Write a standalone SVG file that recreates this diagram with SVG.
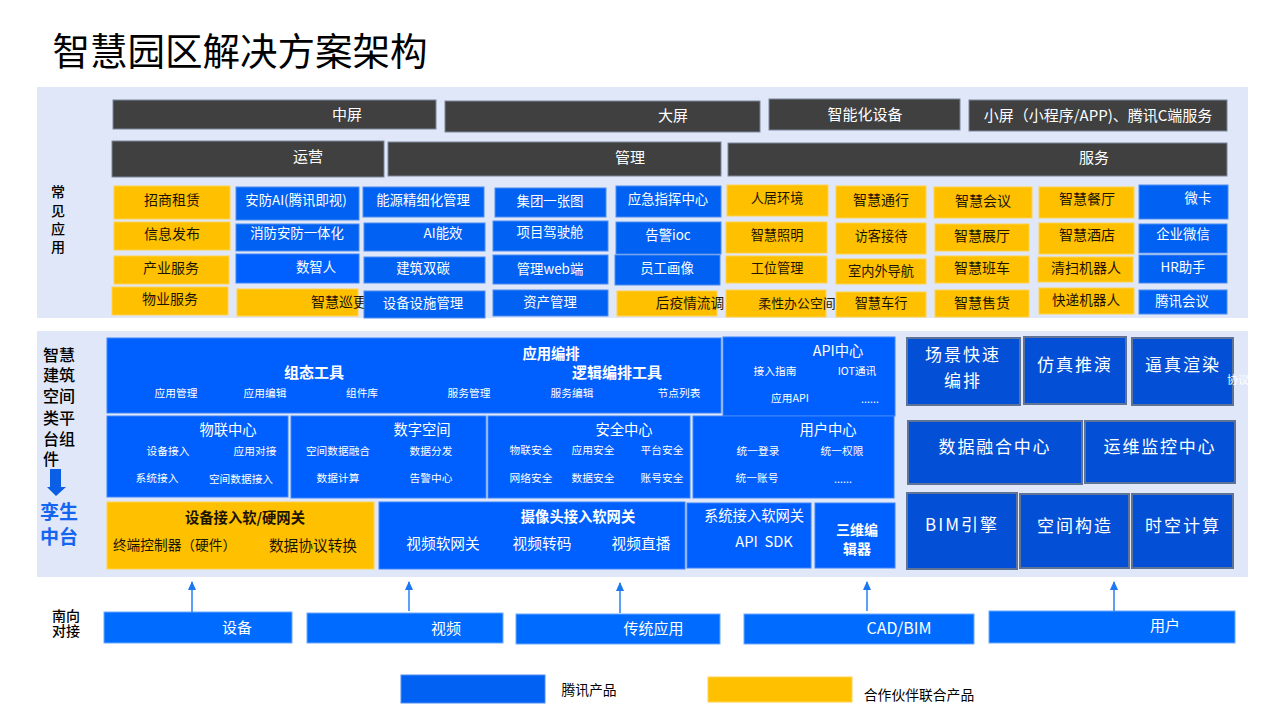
<svg xmlns="http://www.w3.org/2000/svg" width="1280" height="720" viewBox="0 0 1280 720">
<style>
text{font-family:"Noto Sans CJK SC","Microsoft YaHei","Noto Sans",sans-serif;text-anchor:middle;dominant-baseline:central;font-size:13.4px;fill:#fff;transform:translateY(-1px)}
.bg{fill:#dfe7f9}
.d rect{fill:#404040;stroke:#7c879c;stroke-width:1}
.d text{font-size:15px}
.y rect{fill:#ffc000;stroke:#ffd24d;stroke-width:1}
.y text{fill:#1a1400;font-size:14px}
.y .n{font-size:13.2px}
.b rect{fill:#0061f2;stroke:#4f8df0;stroke-width:1}
.m rect{fill:#005fff;stroke:#3f85fa;stroke-width:1}
.k rect{fill:#0350d6;stroke:#5f7396;stroke-width:2}
.k text{font-size:17px;letter-spacing:2px;transform:translateY(-2px)}
.s{fill:#006cff;stroke:#6aa8ff;stroke-width:1}
.sl{font-size:15px}
.t{font-size:10.7px}
.h,.y .h{font-size:14.3px}
.w{font-size:14.7px}
.f{font-weight:700}
.l{fill:#000;font-weight:500}
.lg{font-size:13.8px;fill:#000}
#connectors line{stroke:#1b78f2;stroke-width:1.4;marker-end:url(#a)}
</style>
<defs><marker id="a" markerUnits="userSpaceOnUse" markerWidth="9" markerHeight="8" refX="8" refY="4" orient="auto" viewBox="0 0 9 8"><path d="M0 0 L9 4 L0 8Z" fill="#1b78f2"/></marker></defs>
<rect width="1280" height="720" fill="#fff"/>
<text id="title" x="240" y="49" style="font-size:37.5px;fill:#000">智慧园区解决方案架构</text>
<rect class="bg" x="37" y="87" width="1211" height="231"/>
<rect class="bg" x="37" y="331" width="1211" height="246"/>

<g id="label-apps"><text class="l f" style="font-size:14px"><tspan x="58" y="192">常</tspan><tspan x="58" y="211">见</tspan><tspan x="58" y="229">应</tspan><tspan x="58" y="247">用</tspan></text></g>
<g id="label-platform"><text class="l" style="font-size:16px"><tspan x="59" y="355">智慧</tspan><tspan x="59" y="375">建筑</tspan><tspan x="59" y="396">空间</tspan><tspan x="59" y="418">类平</tspan><tspan x="59" y="439">台组</tspan><tspan x="51" y="459">件</tspan></text></g>
<path id="down-arrow" d="M50 469H61V487H66L56 496L47 487H50Z" fill="#0a5fe6"/>
<g id="label-twin"><text style="font-size:19px;font-weight:700;fill:#1466f0"><tspan x="59" y="511">孪生</tspan><tspan x="59" y="536">中台</tspan></text></g>
<g id="label-south"><text class="l f" style="font-size:14px"><tspan x="66" y="616">南向</tspan><tspan x="66" y="631">对接</tspan></text></g>

<g id="n-mid" class="d"><rect x="113" y="100" width="323" height="29"/><text x="347" y="114">中屏</text></g>
<g id="n-large" class="d"><rect x="445" y="101" width="315" height="31"/><text x="673" y="115">大屏</text></g>
<g id="n-device" class="d"><rect x="769" y="99" width="191" height="31"/><text x="865" y="114">智能化设备</text></g>
<g id="n-small" class="d"><rect x="969" y="100" width="258" height="31"/><text x="1098" y="115">小屏（小程序/APP)、腾讯C端服务</text></g>
<g id="n-ops" class="d"><rect x="112" y="141" width="272" height="36"/><text x="308" y="156">运营</text></g>
<g id="n-mgmt" class="d"><rect x="388" y="142" width="333" height="34"/><text x="630" y="157">管理</text></g>
<g id="n-svc" class="d"><rect x="728" y="143" width="499" height="33"/><text x="1094" y="157">服务</text></g>

<g id="a1" class="y"><rect x="114" y="186" width="116" height="33"/><text x="172" y="200">招商租赁</text></g>
<g id="a2" class="y"><rect x="114" y="222" width="116" height="28"/><text x="172" y="234">信息发布</text></g>
<g id="a3" class="y"><rect x="114" y="256" width="115" height="28"/><text x="171" y="268">产业服务</text></g>
<g id="a4" class="y"><rect x="112" y="287" width="116" height="28"/><text x="170" y="299">物业服务</text></g>
<g id="a5" class="b"><rect x="236" y="187" width="123" height="33"/><text x="296" y="200">安防AI(腾讯即视)</text></g>
<g id="a6" class="b"><rect x="236" y="224" width="123" height="27"/><text x="297" y="233">消防安防一体化</text></g>
<g id="a7" class="m"><rect x="236" y="254" width="123" height="29"/><text x="316" y="267">数智人</text></g>
<g id="a8" class="y"><rect x="237" y="289" width="121" height="27"/><text x="339" y="302">智慧巡更</text></g>
<g id="a9" class="b"><rect x="363" y="187" width="121" height="30"/><text x="423" y="200">能源精细化管理</text></g>
<g id="a10" class="b"><rect x="364" y="223" width="121" height="28"/><text x="443" y="233">AI能效</text></g>
<g id="a11" class="b"><rect x="364" y="257" width="121" height="26"/><text x="423" y="268">建筑双碳</text></g>
<g id="a12" class="b"><rect x="364" y="291" width="121" height="27"/><text x="423" y="303">设备设施管理</text></g>
<g id="a13" class="b"><rect x="495" y="188" width="111" height="29"/><text x="550" y="201">集团一张图</text></g>
<g id="a14" class="b"><rect x="493" y="221" width="115" height="30"/><text x="550" y="232">项目驾驶舱</text></g>
<g id="a15" class="b"><rect x="493" y="255" width="115" height="29"/><text x="550" y="269">管理web端</text></g>
<g id="a16" class="b"><rect x="493" y="290" width="115" height="26"/><text x="550" y="302">资产管理</text></g>
<g id="a17" class="b"><rect x="616" y="186" width="105" height="31"/><text x="668" y="199">应急指挥中心</text></g>
<g id="a18" class="b"><rect x="616" y="222" width="105" height="32"/><text x="668" y="235">告警ioc</text></g>
<g id="a19" class="b"><rect x="615" y="255" width="105" height="30"/><text x="667" y="268">员工画像</text></g>
<g id="a20" class="y"><rect x="617" y="291" width="100" height="25"/><text class="n" x="690" y="303" style="font-size:13.7px">后疫情流调</text></g>
<g id="a21" class="y"><rect x="727" y="185" width="101" height="31"/><text class="n" x="777" y="198">人居环境</text></g>
<g id="a22" class="y"><rect x="726" y="222" width="101" height="31"/><text class="n" x="777" y="235">智慧照明</text></g>
<g id="a23" class="y"><rect x="726" y="256" width="101" height="27"/><text class="n" x="777" y="268">工位管理</text></g>
<g id="a24" class="y"><rect x="726" y="290" width="100" height="27"/><text class="n" x="797" y="303" style="font-size:12.9px">柔性办公空间</text></g>
<g id="a25" class="y"><rect x="836" y="186" width="90" height="32"/><text x="881" y="200">智慧通行</text></g>
<g id="a26" class="y"><rect x="836" y="223" width="90" height="31"/><text class="n" x="881" y="236">访客接待</text></g>
<g id="a27" class="y"><rect x="836" y="259" width="90" height="25"/><text class="n" x="881" y="271">室内外导航</text></g>
<g id="a28" class="y"><rect x="836" y="292" width="90" height="25"/><text class="n" x="881" y="303">智慧车行</text></g>
<g id="a29" class="y"><rect x="934" y="187" width="98" height="31"/><text x="983" y="201">智慧会议</text></g>
<g id="a30" class="y"><rect x="935" y="224" width="94" height="27"/><text x="982" y="236">智慧展厅</text></g>
<g id="a31" class="y"><rect x="935" y="256" width="94" height="27"/><text x="982" y="268">智慧班车</text></g>
<g id="a32" class="y"><rect x="935" y="290" width="94" height="27"/><text x="982" y="303">智慧售货</text></g>
<g id="a33" class="y"><rect x="1039" y="187" width="95" height="31"/><text x="1087" y="199">智慧餐厅</text></g>
<g id="a34" class="y"><rect x="1039" y="223" width="95" height="31"/><text x="1087" y="235">智慧酒店</text></g>
<g id="a35" class="y"><rect x="1038" y="257" width="95" height="25"/><text x="1086" y="268">清扫机器人</text></g>
<g id="a36" class="y"><rect x="1039" y="288" width="95" height="26"/><text x="1086" y="300" style="font-size:13.6px">快递机器人</text></g>
<g id="a37" class="b"><rect x="1139" y="185" width="89" height="34"/><text x="1198" y="198">微卡</text></g>
<g id="a38" class="b"><rect x="1139" y="224" width="88" height="29"/><text x="1183" y="234">企业微信</text></g>
<g id="a39" class="b"><rect x="1139" y="255" width="88" height="28"/><text x="1183" y="267">HR助手</text></g>
<g id="a40" class="b"><rect x="1139" y="290" width="88" height="24"/><text x="1182" y="301">腾讯会议</text></g>

<g id="n-tools" class="m"><rect x="107" y="338" width="614" height="75"/><text class="f h" x="551" y="353">应用编排</text><text class="f" x="314" y="372" style="font-size:15px">组态工具</text><text class="f" x="617" y="372" style="font-size:15px">逻辑编排工具</text><text class="t" x="176" y="393">应用管理</text><text class="t" x="265" y="393">应用编辑</text><text class="t" x="362" y="393">组件库</text><text class="t" x="469" y="393">服务管理</text><text class="t" x="572" y="393">服务编辑</text><text class="t" x="679" y="393">节点列表</text></g>
<g id="n-api" class="m"><rect x="723" y="337" width="172" height="79"/><text class="h" x="838" y="350">API中心</text><text class="t" x="775" y="371">接入指南</text><text class="t" x="857" y="371">IOT通讯</text><text class="t" x="790" y="398">应用API</text><text class="t" x="870" y="399">......</text></g>
<g id="n-iot" class="m"><rect x="107" y="416" width="181" height="81"/><text class="h" x="228" y="429">物联中心</text><text class="t" x="168" y="451">设备接入</text><text class="t" x="255" y="451">应用对接</text><text class="t" x="157" y="478">系统接入</text><text class="t" x="241" y="479">空间数据接入</text></g>
<g id="n-space" class="m"><rect x="291" y="416" width="195" height="82"/><text class="h" x="422" y="429">数字空间</text><text class="t" x="338" y="451">空间数据融合</text><text class="t" x="431" y="451">数据分发</text><text class="t" x="338" y="478">数据计算</text><text class="t" x="431" y="478">告警中心</text></g>
<g id="n-sec" class="m"><rect x="488" y="416" width="202" height="82"/><text class="h" x="624" y="429">安全中心</text><text class="t" x="531" y="450">物联安全</text><text class="t" x="593" y="450">应用安全</text><text class="t" x="662" y="450">平台安全</text><text class="t" x="531" y="478">网络安全</text><text class="t" x="593" y="478">数据安全</text><text class="t" x="662" y="478">账号安全</text></g>
<g id="n-user" class="m"><rect x="693" y="416" width="201" height="82"/><text class="h" x="828" y="429">用户中心</text><text class="t" x="758" y="451">统一登录</text><text class="t" x="842" y="451">统一权限</text><text class="t" x="757" y="478">统一账号</text><text class="t" x="843" y="479">......</text></g>
<g id="n-gw1" class="y"><rect x="107" y="502" width="267" height="67"/><text class="f h" x="245" y="517">设备接入软/硬网关</text><text x="174.5" y="545" style="font-size:13.7px">终端控制器（硬件）</text><text x="313" y="545" style="font-size:14.7px">数据协议转换</text></g>
<g id="n-gw2" class="m"><rect x="379" y="502" width="306" height="67"/><text class="f h" x="578" y="516">摄像头接入软网关</text><text class="w" x="443" y="543">视频软网关</text><text class="w" x="542" y="543">视频转码</text><text class="w" x="641" y="543">视频直播</text></g>
<g id="n-gw3" class="m"><rect x="687" y="503" width="124" height="65"/><text class="h" x="754" y="515">系统接入软网关</text><text class="w" x="764" y="541" style="white-space:pre">API  SDK</text></g>
<g id="n-3d" class="m"><rect x="815" y="503" width="80" height="65"/><text class="f" x="857" y="530" style="font-size:14px">三维编</text><text class="f" x="857" y="549" style="font-size:14px">辑器</text></g>

<g id="p1" class="k"><rect x="907" y="338" width="113" height="67"/><text x="963" y="355">场景快速</text><text x="963" y="381">编排</text></g>
<g id="p2" class="k"><rect x="1024" y="337" width="102" height="67"/><text x="1075" y="365">仿真推演</text></g>
<g id="p3" class="k"><rect x="1132" y="338" width="101" height="67"/><text x="1183" y="365">逼真渲染</text></g>
<text id="clip-note" x="1238" y="380" style="font-size:11px;fill:#fff">协议</text>
<g id="p4" class="k"><rect x="908" y="421" width="174" height="63"/><text x="995" y="447" style="letter-spacing:1.8px">数据融合中心</text></g>
<g id="p5" class="k"><rect x="1085" y="421" width="150" height="62"/><text x="1160" y="447" style="letter-spacing:1.8px">运维监控中心</text></g>
<g id="p6" class="k"><rect x="907" y="493" width="110" height="76"/><text x="962" y="525">BIM引擎</text></g>
<g id="p7" class="k"><rect x="1020" y="494" width="109" height="74"/><text x="1075" y="526">空间构造</text></g>
<g id="p8" class="k"><rect x="1132" y="494" width="101" height="74"/><text x="1183" y="526">时空计算</text></g>

<g id="s1"><rect class="s" x="104" y="612" width="188" height="31"/><text class="sl" x="237" y="627">设备</text></g>
<g id="s2"><rect class="s" x="307" y="613" width="196" height="30"/><text class="sl" x="446" y="628">视频</text></g>
<g id="s3"><rect class="s" x="516" y="614" width="204" height="30"/><text class="sl" x="653.5" y="628">传统应用</text></g>
<g id="s4"><rect class="s" x="744" y="614" width="230" height="30"/><text class="sl" x="899" y="628" style="font-size:16px">CAD/BIM</text></g>
<g id="s5"><rect class="s" x="989" y="611" width="246" height="32"/><text class="sl" x="1165" y="625">用户</text></g>

<g id="connectors"><line x1="192" y1="612" x2="192" y2="582"/><line x1="409" y1="611" x2="409" y2="582"/><line x1="620" y1="613" x2="620" y2="583"/><line x1="867" y1="611" x2="867" y2="582"/><line x1="1114" y1="611" x2="1114" y2="582"/></g>

<g id="legend-tencent"><rect x="401" y="675" width="144" height="28" fill="#0061f2" stroke="#4f8df0"/><text class="lg" x="589" y="690">腾讯产品</text></g>
<g id="legend-partner"><rect x="708" y="677" width="144" height="25" fill="#ffc000" stroke="#ffd24d"/><text class="lg" x="919" y="695">合作伙伴联合产品</text></g>
</svg>
